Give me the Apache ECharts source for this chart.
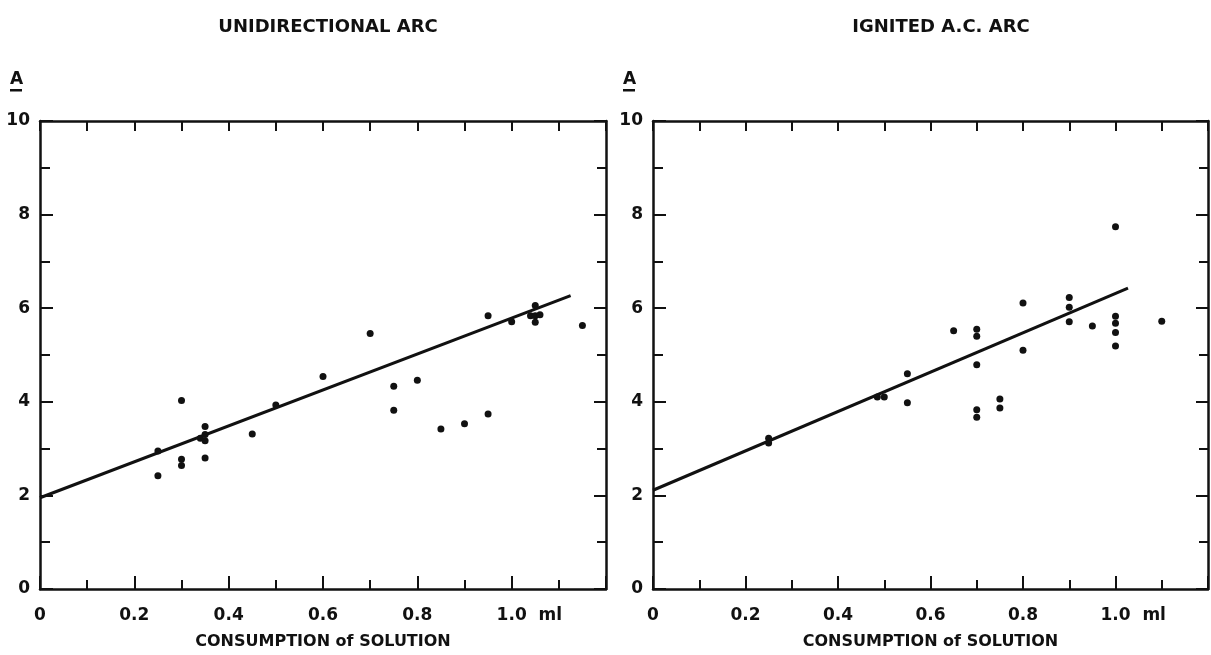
<!DOCTYPE html>
<html>
<head>
<meta charset="utf-8">
<script src="https://cdn.jsdelivr.net/npm/echarts@6/dist/echarts.min.js"></script>
<style>
  html, body { margin: 0; padding: 0; background: #fff; }
  #chart { width: 1211px; height: 655px; }
</style>
</head>
<body>
<div id="chart"></div>
<script>
// unidirectional arc
var uniX = [0.25, 0.25, 0.30, 0.30, 0.30, 0.34, 0.35, 0.35, 0.35, 0.35, 0.45, 0.50, 0.60, 0.70, 0.75, 0.75, 0.80, 0.85, 0.90, 0.95, 0.95, 1.00, 1.04, 1.05, 1.05, 1.06, 1.05, 1.15];
var uniY = [2.95, 2.42, 4.03, 2.77, 2.64, 3.22, 3.47, 3.30, 3.17, 2.80, 3.31, 3.93, 4.54, 5.46, 4.33, 3.82, 4.46, 3.42, 3.53, 3.74, 5.84, 5.71, 5.84, 6.06, 5.84, 5.86, 5.70, 5.63];
var uniFitX = [0, 1.125];
var uniFitY = [1.95, 6.27];

// ignited a.c. arc
var ignX = [0.25, 0.25, 0.485, 0.50, 0.55, 0.55, 0.65, 0.70, 0.70, 0.70, 0.70, 0.70, 0.75, 0.75, 0.80, 0.80, 0.90, 0.90, 0.90, 0.95, 1.00, 1.00, 1.00, 1.00, 1.00, 1.10];
var ignY = [3.22, 3.12, 4.10, 4.10, 4.60, 3.98, 5.52, 5.55, 5.40, 4.79, 3.83, 3.67, 4.06, 3.87, 6.11, 5.10, 6.23, 6.02, 5.71, 5.62, 7.74, 5.83, 5.68, 5.48, 5.19, 5.72];
var ignFitX = [0, 1.027];
var ignFitY = [2.11, 6.43];

var xTickLabels = { '0': '0', '0.2': '0.2', '0.4': '0.4', '0.6': '0.6', '0.8': '0.8', '1': '1.0' };

function pairs(xs, ys) {
    return xs.map(function (x, i) { return [x, ys[i]]; });
}

var chart = echarts.init(document.getElementById('chart'));

var font = 'DejaVu Sans';
var black = '#111';

function xBottom(gridIndex) {
    return {
        type: 'value', gridIndex: gridIndex, position: 'bottom',
        min: 0, max: 1.2, interval: 0.2,
        name: 'CONSUMPTION of SOLUTION', nameLocation: 'middle', nameGap: 45,
        nameTextStyle: { color: black, fontFamily: font, fontWeight: 'bold', fontSize: 16 },
        axisLine: { onZero: false, lineStyle: { color: black, width: 2.5 } },
        axisTick: { inside: true, length: 13, lineStyle: { color: black, width: 2 } },
        minorTick: { show: true, splitNumber: 2, length: 9, lineStyle: { color: black, width: 2 } },
        splitLine: { show: false },
        axisLabel: {
            margin: 18, color: black, fontFamily: font, fontWeight: 'bold', fontSize: 17,
            formatter: function (v) {
                var key = String(Math.round(v * 10) / 10);
                var t = xTickLabels[key];
                if (t === undefined) return '';
                if (key === '1') return '{h|  ml}' + t + '  ml';
                return t;
            },
            rich: { h: { color: 'transparent', fontFamily: font, fontWeight: 'bold', fontSize: 17 } }
        }
    };
}

function xTop(gridIndex) {
    return {
        type: 'value', gridIndex: gridIndex, position: 'top',
        min: 0, max: 1.2, interval: 0.2,
        axisLine: { onZero: false, lineStyle: { color: black, width: 2.5 } },
        axisTick: { inside: true, length: 10, lineStyle: { color: black, width: 2 } },
        minorTick: { show: true, splitNumber: 2, length: 10, lineStyle: { color: black, width: 2 } },
        splitLine: { show: false },
        axisLabel: { show: false }
    };
}

function yLeft(gridIndex) {
    return {
        type: 'value', gridIndex: gridIndex, position: 'left',
        min: 0, max: 10, interval: 2,
        axisLine: { show: true, onZero: false, lineStyle: { color: black, width: 2.5 } },
        axisTick: { show: true, inside: true, length: 13, lineStyle: { color: black, width: 2 } },
        minorTick: { show: true, splitNumber: 2, length: 10, lineStyle: { color: black, width: 2 } },
        splitLine: { show: false },
        axisLabel: { margin: 10, color: black, fontFamily: font, fontWeight: 'bold', fontSize: 17 }
    };
}

function yRight(gridIndex) {
    return {
        type: 'value', gridIndex: gridIndex, position: 'right',
        min: 0, max: 10, interval: 2,
        axisLine: { show: true, onZero: false, lineStyle: { color: black, width: 2.5 } },
        axisTick: { show: true, inside: true, length: 12, lineStyle: { color: black, width: 2 } },
        minorTick: { show: true, splitNumber: 2, length: 9, lineStyle: { color: black, width: 2 } },
        splitLine: { show: false },
        axisLabel: { show: false }
    };
}

function scatter(idx, xs, ys) {
    return {
        type: 'scatter', xAxisIndex: idx * 2, yAxisIndex: idx * 2,
        data: pairs(xs, ys), symbol: 'circle', symbolSize: 7,
        itemStyle: { color: black, opacity: 1 }, silent: true, z: 3
    };
}

function fit(idx, xs, ys) {
    return {
        type: 'line', xAxisIndex: idx * 2, yAxisIndex: idx * 2,
        data: pairs(xs, ys), showSymbol: false,
        lineStyle: { color: black, width: 3 }, silent: true, z: 2
    };
}

var titleStyle = { color: black, fontFamily: font, fontWeight: 'bold', fontSize: 18 };

var option = {
    backgroundColor: '#fff',
    animation: false,
    title: [
        { text: 'UNIDIRECTIONAL ARC', left: 323, top: 13, textAlign: 'center', textStyle: titleStyle },
        { text: 'IGNITED A.C. ARC', left: 936, top: 13, textAlign: 'center', textStyle: titleStyle }
    ],
    grid: [
        { left: 40, right: 605, top: 121, bottom: 65 },
        { left: 653, right: -4, top: 121, bottom: 65 }
    ],
    xAxis: [xBottom(0), xTop(0), xBottom(1), xTop(1)],
    yAxis: [yLeft(0), yRight(0), yLeft(1), yRight(1)],
    graphic: [
        { type: 'text', left: 10, top: 71, style: { text: 'A', fill: black, font: 'bold 17px "DejaVu Sans"' } },
        { type: 'rect', left: 10, top: 89, shape: { width: 12, height: 2.5 }, style: { fill: black } },
        { type: 'text', left: 623, top: 71, style: { text: 'A', fill: black, font: 'bold 17px "DejaVu Sans"' } },
        { type: 'rect', left: 623, top: 89, shape: { width: 12, height: 2.5 }, style: { fill: black } }
    ],
    series: [
        fit(0, uniFitX, uniFitY),
        scatter(0, uniX, uniY),
        fit(1, ignFitX, ignFitY),
        scatter(1, ignX, ignY)
    ]
};

chart.setOption(option);
</script>
</body>
</html>
